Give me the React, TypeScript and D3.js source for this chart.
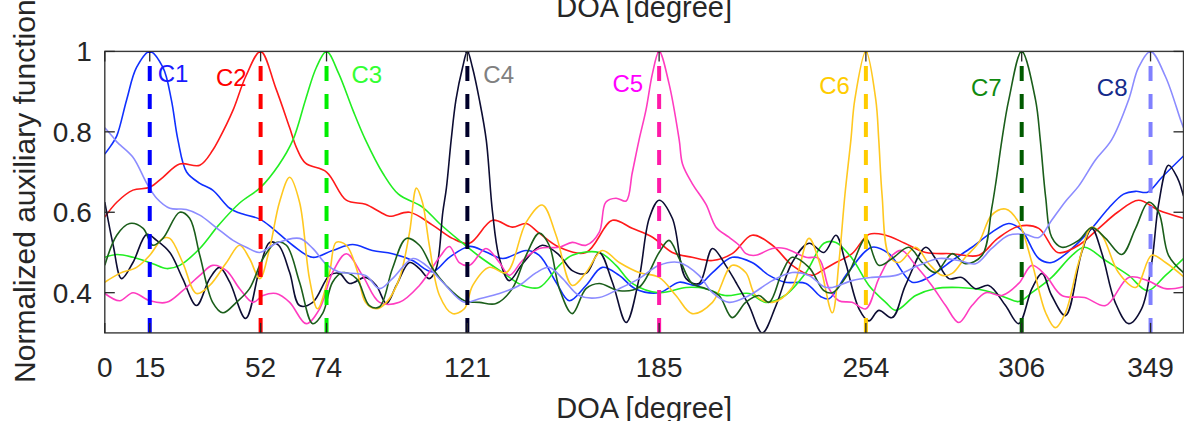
import React from "react";
import * as d3 from "d3";

const doaTicks = [0, 15, 52, 74, 121, 185, 254, 306, 349];
const yTicks = [0.4, 0.6, 0.8, 1];
const sourceDoas = [15, 52, 74, 121, 185, 254, 306, 349];
const sourceNames = ["C1", "C2", "C3", "C4", "C5", "C6", "C7", "C8"];

const c1: [number, number][] = [
  [0, 0.745], [2, 0.765], [4, 0.79], [7.3, 0.88], [10.6, 0.96], [15, 1.0], [19.4, 0.96], [22.2, 0.88],
  [24.4, 0.78], [27.3, 0.7], [31.7, 0.672], [36, 0.655], [41.7, 0.61], [45, 0.598], [51.7, 0.583],
  [56, 0.56], [62.7, 0.518], [69.3, 0.488], [76, 0.505], [82.7, 0.52], [89.3, 0.505], [96, 0.497],
  [102.7, 0.48], [109.3, 0.452], [115, 0.488], [121.7, 0.515], [127, 0.502], [132.8, 0.485],
  [140.6, 0.505], [145, 0.493], [150.6, 0.426], [155, 0.38], [160.6, 0.418], [166, 0.463],
  [171.7, 0.443], [177, 0.41], [185, 0.4], [191.7, 0.426], [198, 0.418], [202.8, 0.45], [209.4, 0.488],
  [216, 0.475], [221.7, 0.443], [227, 0.426], [234, 0.423], [239, 0.39], [241.7, 0.385], [248, 0.45],
  [256, 0.513], [261.7, 0.497], [269.4, 0.426], [275, 0.438], [282.8, 0.48], [289.4, 0.513],
  [296, 0.55], [301.7, 0.572], [306, 0.555], [311.7, 0.485], [316, 0.475], [322.8, 0.51],
  [329.4, 0.56], [335, 0.61], [340, 0.645], [344, 0.652], [348, 0.65], [352.8, 0.687], [360, 0.74],
];

const c2: [number, number][] = [
  [0, 0.588], [4, 0.625], [9.4, 0.655], [15, 0.662], [19.4, 0.687], [25, 0.72], [31.7, 0.717],
  [36, 0.754], [38, 0.78], [42.8, 0.854], [47, 0.937], [52, 1.0], [57, 0.91], [61.7, 0.81],
  [64, 0.76], [67, 0.722], [74, 0.7], [80.6, 0.63], [87, 0.62], [92, 0.6], [95, 0.59], [101.7, 0.6],
  [109.4, 0.568], [116, 0.535], [121.7, 0.523], [129.4, 0.58], [136, 0.563], [140.6, 0.572],
  [145, 0.548], [151.7, 0.513], [160.6, 0.5], [169.4, 0.58], [176, 0.56], [182.8, 0.538],
  [189.4, 0.5], [196, 0.488], [202.8, 0.48], [209.4, 0.497], [216, 0.543], [222.8, 0.518],
  [229.4, 0.468], [236, 0.443], [240, 0.458], [244, 0.475], [249.4, 0.497], [255, 0.545],
  [260.6, 0.543], [267, 0.523], [274, 0.5], [282.8, 0.497], [291.7, 0.493], [298, 0.535],
  [305, 0.565], [311.7, 0.56], [318, 0.5], [325, 0.518], [331.7, 0.56], [338, 0.6], [345, 0.63],
  [351.7, 0.605], [360, 0.585],
];

const c3: [number, number][] = [
  [0, 0.488], [4, 0.495], [9.4, 0.488], [16, 0.472], [20.6, 0.46], [25, 0.468], [31.7, 0.51],
  [38, 0.568], [45, 0.623], [52, 0.662], [58, 0.717], [62.8, 0.78], [67, 0.88], [70.6, 0.96],
  [74, 1.0], [78, 0.946], [82.8, 0.854], [87, 0.78], [92.8, 0.697], [98, 0.645], [106, 0.613],
  [111.7, 0.572], [118.3, 0.53], [125, 0.49], [132.8, 0.45], [139.4, 0.418], [145, 0.413],
  [151.7, 0.468], [156, 0.493], [165, 0.5], [170.6, 0.468], [176, 0.423], [185, 0.4], [194, 0.413],
  [200.6, 0.41], [207, 0.393], [215, 0.398], [220.6, 0.376], [227, 0.393], [234, 0.45], [240, 0.523],
  [244, 0.525], [249.4, 0.485], [255, 0.418], [260.6, 0.376], [264, 0.356], [270.6, 0.393],
  [277, 0.41], [285, 0.413], [294, 0.405], [300.6, 0.388], [305, 0.378], [309.4, 0.4], [316, 0.438],
  [322.8, 0.493], [327, 0.513], [334, 0.48], [341.7, 0.443], [348, 0.405], [354, 0.443], [360, 0.485],
];

const c4: [number, number][] = [
  [0, 0.625], [2.8, 0.518], [5.6, 0.435], [9.4, 0.475], [14, 0.545], [17.3, 0.53], [21.7, 0.5],
  [26, 0.435], [30.6, 0.368], [35, 0.435], [38.3, 0.463], [41.7, 0.426], [47, 0.336], [51.7, 0.46],
  [55, 0.525], [58, 0.518], [61.7, 0.45], [65, 0.368], [69.4, 0.376], [75, 0.443], [78.3, 0.448],
  [81.7, 0.423], [87, 0.438], [90.6, 0.418], [94, 0.373], [97.3, 0.418], [101.7, 0.475], [105, 0.46],
  [108.3, 0.435], [110.6, 0.46], [112.8, 0.6], [114, 0.66], [115.6, 0.78], [117.2, 0.88],
  [119.4, 0.96], [121, 1.0], [122.7, 0.96], [125, 0.88], [127.3, 0.78], [129.4, 0.6], [131.7, 0.485],
  [135, 0.43], [139.4, 0.472], [146, 0.518], [151.7, 0.493], [156, 0.455], [160.6, 0.448], [165, 0.5],
  [169.4, 0.426], [174, 0.326], [178.3, 0.435], [181.7, 0.585], [185, 0.63], [189.4, 0.585],
  [194, 0.435], [198.3, 0.423], [202.8, 0.51], [207.2, 0.468], [210.6, 0.426], [215, 0.368],
  [219.4, 0.3], [224, 0.368], [229.4, 0.475], [235, 0.523], [240, 0.5], [244, 0.543], [247.2, 0.475],
  [251.7, 0.36], [255, 0.33], [258.3, 0.356], [262.8, 0.338], [267.2, 0.418], [274, 0.513],
  [277.2, 0.485], [281.7, 0.435], [286, 0.438], [290.6, 0.41], [295, 0.418], [300.6, 0.368],
  [305, 0.323], [309.4, 0.41], [312.8, 0.448], [316, 0.393], [320.6, 0.343], [326, 0.5],
  [329.4, 0.56], [332.8, 0.497], [337.2, 0.376], [341.7, 0.323], [346, 0.36], [349.4, 0.475],
  [351.7, 0.62], [355, 0.717], [358, 0.685], [360, 0.64],
];

const c5: [number, number][] = [
  [0, 0.398], [5, 0.38], [9.4, 0.4], [15, 0.38], [20.6, 0.376], [26, 0.405], [31.7, 0.443], [36, 0.468],
  [40.6, 0.455], [45, 0.41], [49.4, 0.376], [52.8, 0.393], [57.2, 0.398], [61.7, 0.376], [67.2, 0.323],
  [71.7, 0.36], [76, 0.45], [80.6, 0.497], [86, 0.443], [91.7, 0.376], [98.3, 0.376], [105, 0.418],
  [111.7, 0.488], [115, 0.515], [118.3, 0.475], [121.7, 0.468], [127.2, 0.51], [131.7, 0.475],
  [135, 0.443], [139.4, 0.48], [145, 0.51], [151.7, 0.513], [156, 0.525], [160.6, 0.518], [165, 0.55],
  [167.2, 0.625], [170.6, 0.635], [174, 0.628], [176, 0.697], [178.3, 0.78], [180.6, 0.854],
  [182.8, 0.946], [185, 1.0], [188.3, 0.92], [191.7, 0.78], [192.8, 0.72], [196, 0.672], [200.6, 0.62],
  [204, 0.563], [208.3, 0.538], [211.7, 0.518], [214, 0.497], [217.2, 0.493], [222.8, 0.51],
  [227, 0.51], [234, 0.488], [238.3, 0.485], [241.7, 0.41], [245, 0.38], [249.4, 0.376], [254, 0.36],
  [258.3, 0.435], [262.8, 0.493], [266, 0.505], [270.6, 0.468], [276, 0.418], [280.6, 0.368],
  [285, 0.326], [289.4, 0.368], [294, 0.4], [299.4, 0.393], [305, 0.423], [309.4, 0.468], [314, 0.443],
  [319.4, 0.393], [327, 0.388], [334, 0.368], [341.7, 0.438], [348, 0.43], [354, 0.41], [360, 0.415],
];

const c6: [number, number][] = [
  [0, 0.426], [5, 0.448], [10.6, 0.463], [15, 0.493], [19.4, 0.535], [21.7, 0.535], [26, 0.475],
  [30.6, 0.398], [35, 0.418], [40.6, 0.475], [45, 0.518], [48.3, 0.485], [51.7, 0.435], [55, 0.51],
  [58.3, 0.625], [61.7, 0.687], [65, 0.625], [68.3, 0.435], [71, 0.36], [75, 0.45], [77.2, 0.525],
  [80.6, 0.518], [84, 0.46], [87, 0.376], [90.6, 0.36], [94, 0.376], [98.3, 0.435], [101.7, 0.55],
  [104, 0.66], [106, 0.625], [108.3, 0.518], [111.7, 0.393], [116, 0.348], [120, 0.36], [122.8, 0.418],
  [128.3, 0.463], [134, 0.45], [140.6, 0.575], [146, 0.618], [150.6, 0.543], [156, 0.418],
  [160.6, 0.45], [166, 0.505], [171.7, 0.475], [178.3, 0.45], [185, 0.438], [190.6, 0.393],
  [196, 0.348], [202.8, 0.376], [209.4, 0.468], [213.9, 0.45], [217.2, 0.393], [222.8, 0.376],
  [229.4, 0.413], [235, 0.535], [238.3, 0.48], [242.8, 0.35], [245, 0.476], [247, 0.643], [249, 0.78],
  [250.3, 0.88], [254, 1.0], [257.3, 0.88], [258.3, 0.78], [259.4, 0.643], [261.7, 0.493],
  [265, 0.475], [270.6, 0.513], [275, 0.472], [279.4, 0.443], [282.8, 0.448], [287.2, 0.488],
  [291.7, 0.525], [296, 0.593], [300.6, 0.608], [305, 0.575], [309.4, 0.475], [314, 0.35],
  [317.2, 0.313], [320.6, 0.35], [325, 0.475], [329.4, 0.563], [332.8, 0.543], [338.3, 0.45],
  [344, 0.413], [349.4, 0.493], [354, 0.475], [360, 0.44],
];

const c7: [number, number][] = [
  [0, 0.468], [4, 0.543], [8.3, 0.572], [12.8, 0.56], [16, 0.518], [19.4, 0.535], [25, 0.6],
  [28.3, 0.585], [31.7, 0.493], [36, 0.376], [39.4, 0.35], [43.9, 0.376], [48.3, 0.41], [52.8, 0.485],
  [57.2, 0.525], [60.6, 0.518], [65, 0.426], [69.4, 0.323], [72.8, 0.35], [76, 0.426], [79.4, 0.45],
  [84, 0.435], [88.3, 0.368], [91.7, 0.365], [96, 0.46], [100.6, 0.535], [105, 0.518], [109.4, 0.46],
  [113.9, 0.418], [120, 0.38], [125, 0.376], [130.6, 0.373], [136, 0.41], [140.6, 0.493],
  [145, 0.548], [148.3, 0.518], [151.7, 0.41], [156, 0.348], [160.6, 0.41], [165, 0.423],
  [171.7, 0.405], [178.3, 0.413], [185, 0.5], [188.3, 0.53], [191.7, 0.485], [196, 0.423],
  [200.6, 0.41], [205, 0.393], [209.4, 0.338], [213.9, 0.376], [218.3, 0.393], [221.7, 0.376],
  [226, 0.45], [229.4, 0.488], [235, 0.463], [240, 0.405], [242.8, 0.4], [248.3, 0.45], [254, 0.535],
  [258.3, 0.468], [262.8, 0.485], [268.3, 0.513], [272.8, 0.475], [277.2, 0.45], [282.8, 0.497],
  [287.2, 0.472], [292.8, 0.493], [296, 0.61], [297.5, 0.68], [299.4, 0.78], [301.7, 0.88], [306, 1.0],
  [310.6, 0.88], [312.2, 0.78], [314, 0.637], [316, 0.538], [319.4, 0.513], [325, 0.53],
  [329.4, 0.562], [334, 0.535], [339.4, 0.495], [344, 0.56], [348.3, 0.625], [351.7, 0.6],
  [355, 0.493], [360, 0.45],
];

const c8: [number, number][] = [
  [0, 0.81], [2.7, 0.787], [4, 0.775], [9.4, 0.737], [14, 0.672], [17.3, 0.635], [21.7, 0.61],
  [27.2, 0.607], [31.7, 0.593], [37.2, 0.562], [42.8, 0.53], [47.2, 0.513], [51.7, 0.5], [57.2, 0.523],
  [65, 0.535], [69.4, 0.51], [74, 0.47], [78, 0.452], [87, 0.443], [91.7, 0.41], [96, 0.435],
  [102.8, 0.485], [107.2, 0.468], [112.8, 0.426], [120, 0.376], [125, 0.385], [131.7, 0.398],
  [138.3, 0.418], [144, 0.45], [148.3, 0.463], [152.8, 0.435], [158.3, 0.393], [165, 0.388],
  [171.7, 0.41], [178.3, 0.435], [185, 0.468], [191.7, 0.475], [198.3, 0.443], [202.8, 0.4],
  [208.3, 0.376], [215, 0.393], [222.8, 0.43], [229.4, 0.45], [235, 0.443], [240, 0.415],
  [242.8, 0.413], [249.4, 0.43], [256, 0.438], [264, 0.443], [271.7, 0.468], [278.3, 0.485],
  [285, 0.48], [290.6, 0.472], [296, 0.51], [301.7, 0.543], [307.2, 0.545], [311.7, 0.537],
  [316, 0.58], [320.6, 0.627], [325, 0.665], [330.6, 0.73], [336, 0.78], [341.7, 0.88], [345, 0.96],
  [349, 1.0], [354, 0.937], [359, 0.83], [360, 0.81],
];

const seriesList = [c1, c2, c3, c4, c5, c6, c7, c8];

const lineColors = ["#1030ff", "#ff1a1a", "#22ee22", "#0d0d33", "#ff3cc0", "#ffc820", "#1b5e1b", "#8c8cff"];
const dashColors = ["#0000ff", "#ff0000", "#00ee00", "#00002a", "#ff1aa8", "#ffcc00", "#005a00", "#8080ff"];
const labelColors = ["#1a1aff", "#ff0000", "#33ff33", "#808080", "#ff00ff", "#ffcc00", "#108a10", "#142a8a"];

const labelLayout = [
  { dx: 8, anchor: "start", y: 82 },
  { dx: -14, anchor: "end", y: 86 },
  { dx: 25, anchor: "start", y: 83 },
  { dx: 16, anchor: "start", y: 83 },
  { dx: -16, anchor: "end", y: 92 },
  { dx: -16, anchor: "end", y: 94 },
  { dx: -20, anchor: "end", y: 96 },
  { dx: -23, anchor: "end", y: 96 },
];

const FONT = "'Liberation Sans', Arial, Helvetica, sans-serif";
const INK = "#262626";

export default function App() {
  const W = 1184;
  const H = 421;
  const x = d3.scaleLinear().domain([0, 360]).range([104.8, 1183.5]);
  const y = d3.scaleLinear().domain([0.3, 1]).range([332.9, 51.4]);
  const line = d3
    .line<[number, number]>()
    .x((d) => x(d[0]))
    .y((d) => y(d[1]))
    .curve(d3.curveCatmullRom.alpha(0.5));

  const x0 = x(0);
  const x1 = x(360);
  const yTop = y(1);
  const yBot = y(0.3);

  return (
    <svg
      width={W}
      height={H}
      viewBox={`0 0 ${W} ${H}`}
      style={{ position: "absolute", left: 0, top: 0, display: "block", background: "#fff" }}
    >
      <defs>
        <clipPath id="plotClip">
          <rect x={x0} y={yTop} width={x1 - x0} height={yBot - yTop} />
        </clipPath>
      </defs>
      <rect x={0} y={0} width={W} height={H} fill="#fff" />

      {/* top text (from axis above) */}
      <text x={(x0 + x1) / 2} y={17} textAnchor="middle" fontFamily={FONT} fontSize={29} fill={INK}>
        DOA [degree]
      </text>

      <g clipPath="url(#plotClip)">
        {seriesList.map((s, i) => (
          <path key={"s" + i} d={line(s) || ""} fill="none" stroke={lineColors[i]} strokeWidth={1.6} />
        ))}
        {sourceDoas.map((d, i) => (
          <line
            key={"d" + i}
            x1={x(d)}
            x2={x(d)}
            y1={yBot}
            y2={yTop}
            stroke={dashColors[i]}
            strokeWidth={4}
            strokeDasharray="15 13"
          />
        ))}
      </g>

      {/* frame */}
      <rect x={x0} y={yTop} width={x1 - x0} height={yBot - yTop} fill="none" stroke="#3a3a3a" strokeWidth={1.4} />

      {/* x ticks */}
      {doaTicks.map((t) => (
        <g key={"xt" + t}>
          <line x1={x(t)} x2={x(t)} y1={yBot} y2={yBot - 10} stroke={INK} strokeWidth={1.3} />
          <line x1={x(t)} x2={x(t)} y1={yTop} y2={yTop + 10} stroke={INK} strokeWidth={1.3} />
          <text x={x(t)} y={yBot + 44} textAnchor="middle" fontFamily={FONT} fontSize={28} fill={INK}>
            {t}
          </text>
        </g>
      ))}

      {/* y ticks */}
      {yTicks.map((t) => (
        <g key={"yt" + t}>
          <line x1={x0} x2={x0 + 10} y1={y(t)} y2={y(t)} stroke={INK} strokeWidth={1.3} />
          <line x1={x1} x2={x1 - 10} y1={y(t)} y2={y(t)} stroke={INK} strokeWidth={1.3} />
          <text x={x0 - 13} y={y(t) + 10} textAnchor="end" fontFamily={FONT} fontSize={28} fill={INK}>
            {String(t)}
          </text>
        </g>
      ))}

      {/* source labels */}
      {sourceNames.map((n, i) => (
        <text
          key={"l" + i}
          x={x(sourceDoas[i]) + labelLayout[i].dx}
          y={labelLayout[i].y}
          textAnchor={labelLayout[i].anchor as any}
          fontFamily={FONT}
          fontSize={24}
          fill={labelColors[i]}
        >
          {n}
        </text>
      ))}

      {/* axis labels */}
      <text x={(x0 + x1) / 2} y={418} textAnchor="middle" fontFamily={FONT} fontSize={29} fill={INK}>
        DOA [degree]
      </text>
      <text
        transform={`translate(35, ${(yTop + yBot) / 2 - 1}) rotate(-90)`}
        textAnchor="middle"
        fontFamily={FONT}
        fontSize={30}
        fill={INK}
      >
        Normalized auxiliary function
      </text>
    </svg>
  );
}
